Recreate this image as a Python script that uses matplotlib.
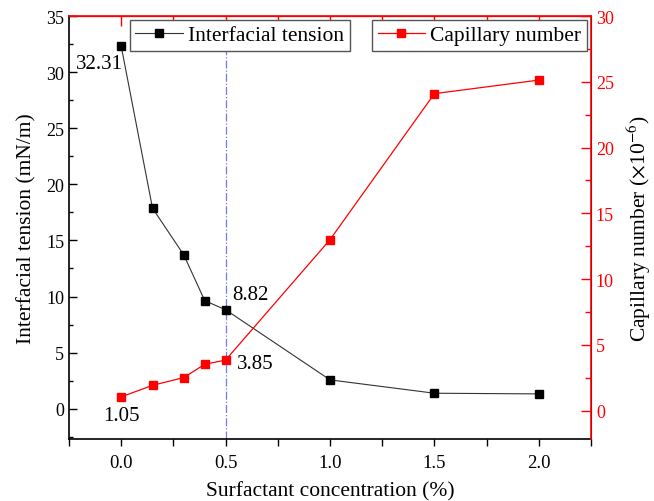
import matplotlib
matplotlib.use('Agg')
import matplotlib.pyplot as plt
from matplotlib.ticker import MultipleLocator

# data
conc = [0.0, 0.15, 0.3, 0.4, 0.5, 1.0, 1.5, 2.0]
tension = [32.31, 17.87, 13.7, 9.63, 8.82, 2.57, 1.38, 1.32]
capillary = [1.05, 1.93, 2.52, 3.53, 3.85, 13.0, 24.1, 25.13]

RED = '#ff0000'

plt.rcParams['font.family'] = 'Liberation Serif'
plt.rcParams['mathtext.fontset'] = 'stix'

fig = plt.figure(figsize=(6.54, 5.02), dpi=100)
ax = fig.add_axes((0.1055, 0.1235, 0.7982, 0.8426))
ax2 = ax.twinx()

# interfacial tension (left axis)
l1, = ax.plot(conc, tension, '-', color='#333333', lw=0.8, marker='s', ms=6,
              mfc='black', mec='black', label='Interfacial tension')
ax.set_xlim(-0.25, 2.25)
ax.set_ylim(-2.7, 35)
ax.axvline(0.5, color='#7a7ae0', lw=0.9, ls='-.', zorder=0)

# capillary number (right axis)
l2, = ax2.plot(conc, capillary, '-', color=RED, lw=0.9, marker='s', ms=6,
               mfc=RED, mec=RED, label='Capillary number')
ax2.set_ylim(-2.15, 30)

# ticks
ax.xaxis.set_minor_locator(MultipleLocator(0.25))
ax.yaxis.set_major_locator(MultipleLocator(5))
ax.yaxis.set_minor_locator(MultipleLocator(2.5))
ax2.yaxis.set_major_locator(MultipleLocator(5))
ax2.yaxis.set_minor_locator(MultipleLocator(2.5))
ax.set_xticks([0.0, 0.5, 1.0, 1.5, 2.0])
ax.set_xticklabels(['0.0', '0.5', '1.0', '1.5', '2.0'])

ax.tick_params(axis='x', which='both', direction='out', length=5, width=1,
               labelsize=13.5, top=False, pad=6)
ax.tick_params(axis='y', which='major', direction='in', length=6, width=1, labelsize=13)
ax.tick_params(axis='y', which='minor', direction='in', length=3, width=1)
ax2.tick_params(axis='y', which='major', direction='in', length=7, width=1,
                colors=RED, labelsize=13)
ax2.tick_params(axis='y', which='minor', direction='in', length=4, width=1, colors=RED)

# red top ticks like the original
top = ax2.secondary_xaxis('top')
top.set_xticks([0.25 * i for i in range(9)])
top.tick_params(direction='in', length=7, width=1, colors=RED, labeltop=False)
top.spines['top'].set_color(RED)

for s in ['left', 'bottom']:
    ax.spines[s].set_linewidth(1.2)
ax2.spines['right'].set_color(RED)
ax2.spines['top'].set_color(RED)
ax2.spines['right'].set_linewidth(1.2)
ax2.spines['top'].set_linewidth(1.2)
ax2.spines['left'].set_visible(False)
ax2.spines['bottom'].set_visible(False)

ax.set_xlabel('Surfactant concentration (%)', fontsize=15.5, labelpad=7)
ax.set_ylabel('Interfacial tension (mN/m)', fontsize=15.5, labelpad=7)
ax2.set_ylabel(r'Capillary number ($\times$10$^{-6}$)', fontsize=15.5, labelpad=8)

# value labels
ax.text(-0.105, 30.8, '32.31', fontsize=15, ha='center', va='center')
ax.text(0.62, 10.15, '8.82', fontsize=15, ha='center', va='center')
ax2.text(0.64, 3.58, '3.85', fontsize=15, ha='center', va='center')
ax2.text(0.0, -0.4, '1.05', fontsize=15, ha='center', va='center')

leg_kw = dict(fontsize=15.5, fancybox=False, framealpha=1, edgecolor='#555555',
              borderaxespad=0, borderpad=0.25, handlelength=2.2, handletextpad=0.25)
leg1 = ax2.legend(handles=[l1], loc='upper left', bbox_to_anchor=(0.117, 0.9905), **leg_kw)
ax2.add_artist(leg1)
ax2.legend(handles=[l2], loc='upper right', bbox_to_anchor=(0.992, 0.9905), **leg_kw)

fig.savefig('out.png', dpi=100)
